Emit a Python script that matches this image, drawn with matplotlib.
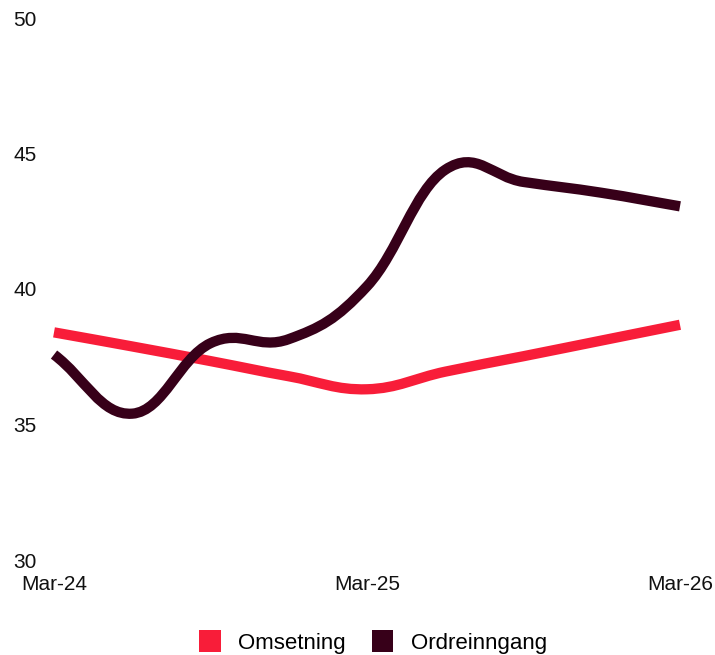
import matplotlib
matplotlib.use("Agg")
import matplotlib.pyplot as plt
from matplotlib.path import Path
from matplotlib.patches import PathPatch, Patch

plt.rcParams['font.family'] = ['Liberation Sans', 'DejaVu Sans']

quarters = ['Mar-24', 'Jun-24', 'Sep-24', 'Dec-24', 'Mar-25',
            'Jun-25', 'Sep-25', 'Dec-25', 'Mar-26']
omsetning = [38.4, 37.88, 37.34, 36.78, 36.3, 36.95, 37.52, 38.1, 38.68]
ordreinngang = [37.58, 35.4, 38.0, 38.15, 40.1, 44.4, 43.95, 43.55, 43.05]
series_names = ['Omsetning', 'Ordreinngang']
colors = ['#F81D39', '#370019']
y_ticks = [30, 35, 40, 45, 50]
x_tick_labels = ['Mar-24', 'Mar-25', 'Mar-26']


def smooth_path(xs, ys, k=0.2):
    """Cardinal-spline style bezier through the data points."""
    n = len(xs)
    cin = [None] * n
    cout = [None] * n
    for i in range(n):
        xp, yp = (xs[i - 1], ys[i - 1]) if i > 0 else (xs[i], ys[i])
        xn, yn = (xs[i + 1], ys[i + 1]) if i < n - 1 else (xs[i], ys[i])
        f = k if 0 < i < n - 1 else 2 * k
        cin[i] = (xs[i] - f * (xn - xp), ys[i] - f * (yn - yp))
        cout[i] = (xs[i] + f * (xn - xp), ys[i] + f * (yn - yp))
    verts = [(xs[0], ys[0])]
    codes = [Path.MOVETO]
    for i in range(1, n):
        verts += [cout[i - 1], cin[i], (xs[i], ys[i])]
        codes += [Path.CURVE4] * 3
    return Path(verts, codes)


fig = plt.figure(figsize=(7.15, 6.55), dpi=100)
ax = fig.add_axes([54 / 715, (655 - 560) / 655, (680 - 54) / 715, (560 - 18) / 655])

xs = [i * 3 for i in range(len(quarters))]
for vals, col, z in [(omsetning, colors[0], 2), (ordreinngang, colors[1], 3)]:
    patch = PathPatch(smooth_path(xs, vals), facecolor='none', edgecolor=col,
                      linewidth=7.4, capstyle='butt', joinstyle='round',
                      zorder=z, clip_on=False)
    ax.add_patch(patch)

ax.set_xlim(0, 24)
ax.set_ylim(30, 50)
ax.set_xticks([0, 12, 24])
ax.set_xticklabels(x_tick_labels, fontsize=15, color='#111111')
ax.set_yticks(y_ticks)
ax.set_yticklabels([str(v) for v in y_ticks], fontsize=15, color='#111111',
                   ha='left')
ax.tick_params(axis='y', length=0, pad=29.5)
ax.tick_params(axis='x', length=0, pad=10.5)
for s in ax.spines.values():
    s.set_visible(False)

handles = [Patch(facecolor=c, edgecolor='none') for c in colors]
fig.legend(handles, series_names, loc='center', bbox_to_anchor=(373 / 715, 13 / 655),
           ncol=2, frameon=False, fontsize=16, handlelength=0.96,
           handleheight=1.1, handletextpad=0.8, columnspacing=1.15)

fig.savefig('out.png', dpi=100)
